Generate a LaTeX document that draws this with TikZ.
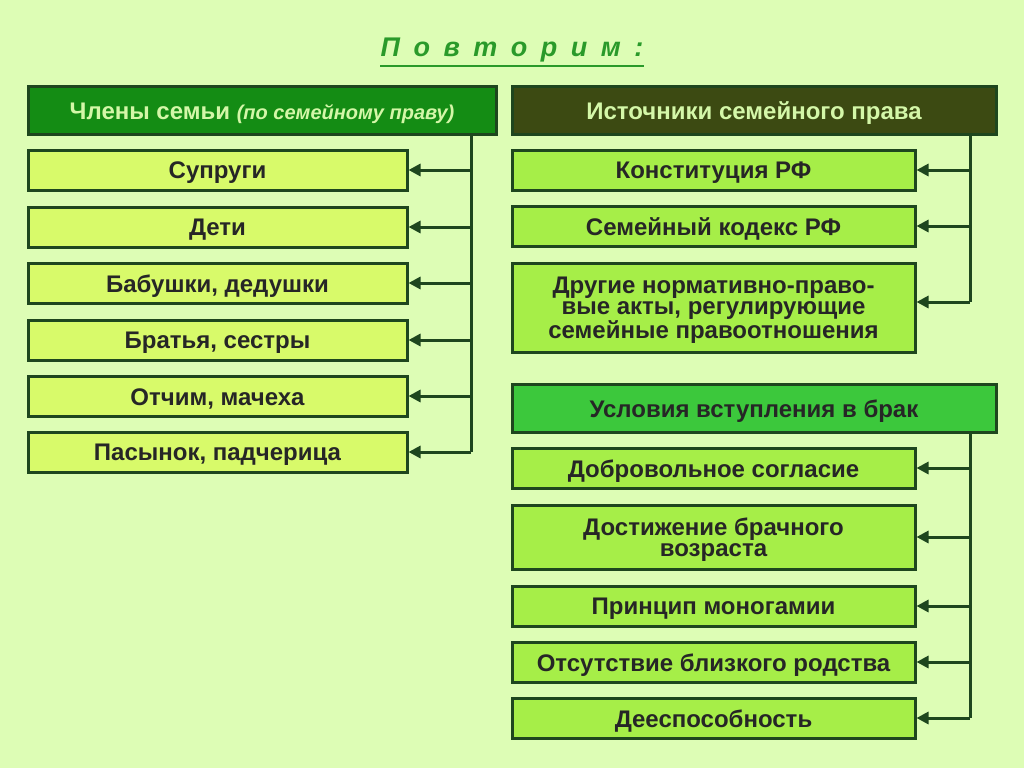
\documentclass[tikz,border=0pt]{standalone}
\usepackage{fontspec}
\setmainfont{Liberation Sans}
\usetikzlibrary{arrows.meta}
\definecolor{bg}{HTML}{DDFDB5}
\definecolor{bord}{HTML}{1E461E}
\definecolor{lfill}{HTML}{D8FA6A}
\definecolor{rfill}{HTML}{A6EE48}
\definecolor{h1}{HTML}{148C14}
\definecolor{h2}{HTML}{3C4A12}
\definecolor{h3}{HTML}{3CC83C}
\definecolor{htxt}{HTML}{D4F7A8}
\definecolor{ttl}{HTML}{2A9A2A}
\tikzset{
 box/.style={draw=bord,line width=3pt,inner sep=0pt},
 lbl/.style={align=center,font=\bfseries\fontsize{24}{21}\selectfont,text=black!85,yshift=-3pt},
 conn/.style={draw=bord,line width=3pt},
 arr/.style={conn,-{Triangle[length=12pt,width=12pt]}},
}
\newcommand{\bx}[6]{\node[box,fill=#6,minimum width=#3-#2,minimum height=#5-#4] (#1) at ({(#2+#3)/2},{(#4+#5)/2}) {};}
\begin{document}
\begin{tikzpicture}[x=1pt,y=-1pt]
\fill[bg] (0,0) rectangle (1024,768);
\useasboundingbox (0,0) rectangle (1024,768);
\node[text=ttl,font=\bfseries\itshape\fontsize{27}{30}\selectfont,inner sep=0pt] (title) at (512,50) {П\,\,\,о\,\,\,в\,\,\,т\,\,\,о\,\,\,р\,\,\,и\,\,\,м\,\,\,:};
\draw[ttl,line width=2pt] ([yshift=-4pt]title.south west) -- ([yshift=-4pt]title.south east);
% left
\bx{lh}{28}{496}{86}{134}{h1}
\node[lbl,text=htxt] at (lh) {Члены семьи \textit{\fontsize{20}{20}\selectfont(по семейному праву)}};
\foreach \n/\t/\a/\b in {l1/Супруги/150/190,l2/Дети/207/247,l3/{Бабушки, дедушки}/263/303,l4/{Братья, сестры}/320/360,l5/{Отчим, мачеха}/376/416,l6/{Пасынок, падчерица}/432/472}{
 \bx{\n}{28}{407}{\a}{\b}{lfill}
 \node[lbl] at (\n) {\t};
 \coordinate (c\n) at (471,{(\a+\b)/2});
 \draw[arr] (c\n) -- (\n.east);
}
\coordinate (lt) at (471,134);
\draw[conn] (lt) -- (cl6);
% right top
\bx{rh}{512}{996}{86}{134}{h2}
\node[lbl,text=htxt] at (rh) {Источники семейного права};
\foreach \n/\t/\a/\b in {r1/{Конституция РФ}/150/190,r2/{Семейный кодекс РФ}/206/246,r3/{Другие нормативно-право-\\вые акты, регулирующие\\семейные правоотношения}/263/352}{
 \bx{\n}{512}{915}{\a}{\b}{rfill}
 \node[lbl] at (\n) {\t};
}
\coordinate (cr1) at (970,170); \coordinate (cr2) at (970,226); \coordinate (cr3) at (970,302);
\coordinate (rt) at (970,134);
\draw[conn] (rt) -- (cr3);
\foreach \n in {r1,r2,r3} \draw[arr] (c\n) -- (\n.east |- c\n);
% right bottom
\bx{bh}{512}{996}{384}{432}{h3}
\node[lbl] at (bh) {Условия вступления в брак};
\foreach \n/\t/\a/\b in {b1/{Добровольное согласие}/448/488,b2/{Достижение брачного\\возраста}/505/569,b3/{Принцип моногамии}/586/626,b4/{Отсутствие близкого родства}/642/682,b5/{Дееспособность}/698/738}{
 \bx{\n}{512}{915}{\a}{\b}{rfill}
 \node[lbl] at (\n) {\t};
 \coordinate (c\n) at (970,{(\a+\b)/2});
 \draw[arr] (c\n) -- (\n.east |- c\n);
}
\coordinate (bt) at (970,432);
\draw[conn] (bt) -- (cb5);
\end{tikzpicture}
\end{document}
